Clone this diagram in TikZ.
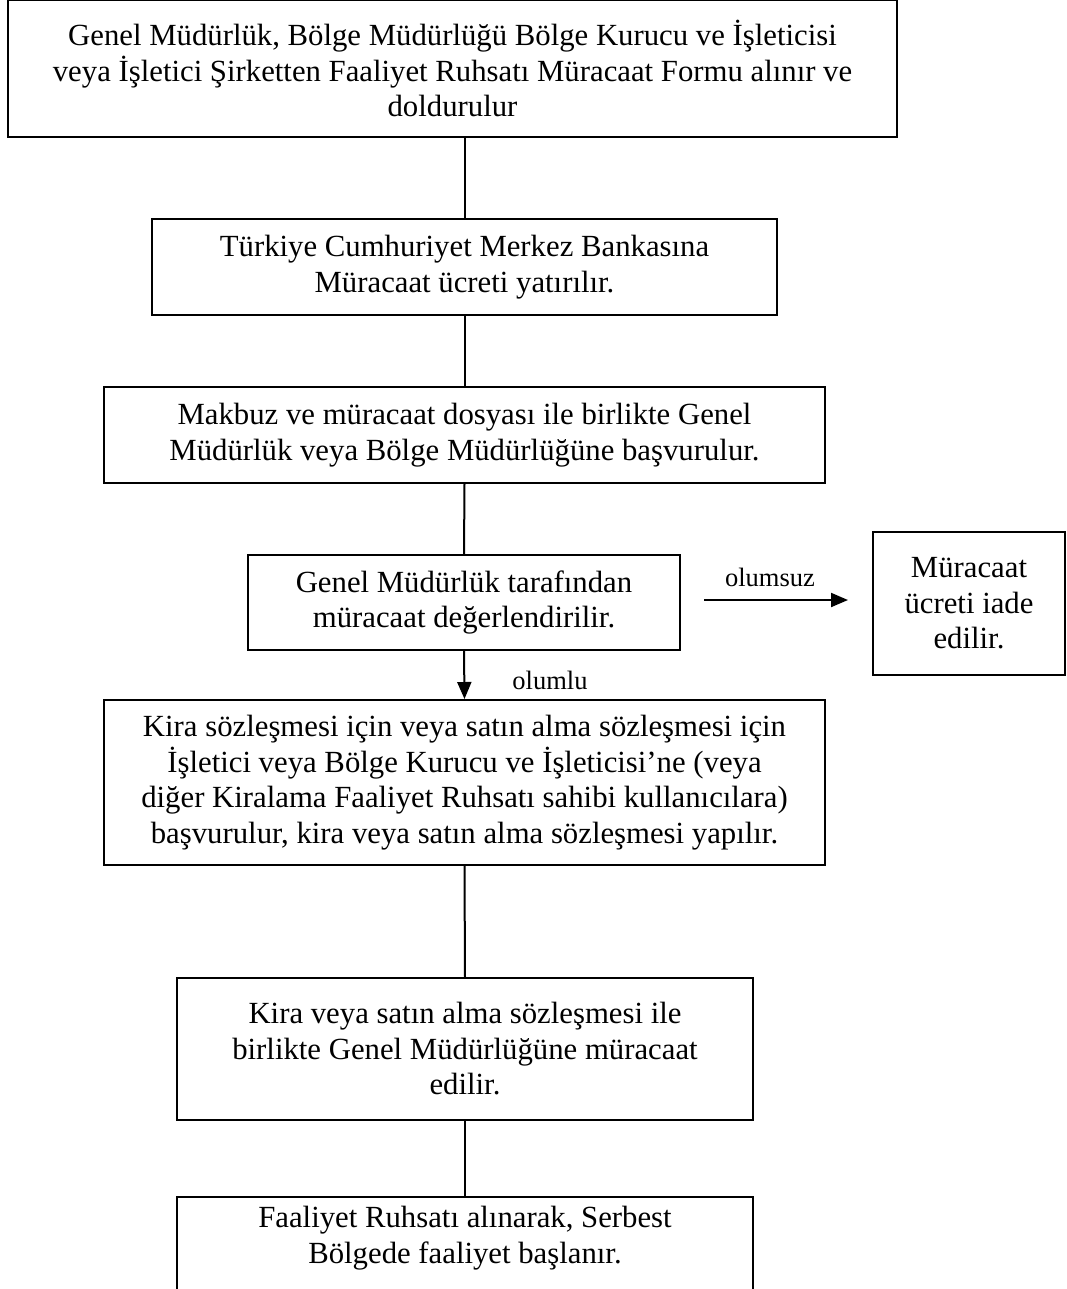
\documentclass[tikz,border=0pt]{standalone}
\usepackage{fontspec}
\setmainfont{Liberation Serif}
\usepackage{tikz}
\usetikzlibrary{arrows.meta}

\begin{document}
\begin{tikzpicture}[x=0.4pt, y=-0.4pt, >={Triangle[length=6.8pt, width=5.6pt]},
    box/.style={draw, line width=0.8pt, align=center, inner sep=0pt,
      font=\fontsize{12.3}{14.2}\selectfont},
    wh/.style 2 args={minimum width=#1*0.4pt, minimum height=#2*0.4pt},
    link/.style={line width=0.8pt},
    tag/.style={font=\fontsize{10.6}{12}\selectfont}]
  %--- Page
  \useasboundingbox (0,0) rectangle (1067,1289);
  %--- Steps
  \node[box, wh={889}{137}] (B1) at (452.5,68.5)
    {Genel Müdürlük, Bölge Müdürlüğü Bölge Kurucu ve İşleticisi\\
     veya İşletici Şirketten Faaliyet Ruhsatı Müracaat Formu alınır ve\\
     doldurulur};
  \node[box, wh={625}{96}] (B2) at (464.5,267)
    {Türkiye Cumhuriyet Merkez Bankasına\\ Müracaat ücreti yatırılır.};
  \node[box, wh={721}{96}] (B3) at (464.5,435)
    {Makbuz ve müracaat dosyası ile birlikte Genel\\
     Müdürlük veya Bölge Müdürlüğüne başvurulur.};
  \node[box, wh={432}{95}] (B4) at (464,602.5)
    {Genel Müdürlük tarafından\\ müracaat değerlendirilir.};
  \node[box, wh={192}{143}] (B5) at (969,603.5)
    {Müracaat\\ ücreti iade\\ edilir.};
  \node[box, wh={721}{165}] (B6) at (464.5,782.5)
    {Kira sözleşmesi için veya satın alma sözleşmesi için\\
     İşletici veya Bölge Kurucu ve İşleticisi’ne (veya\\
     diğer Kiralama Faaliyet Ruhsatı sahibi kullanıcılara)\\
     başvurulur, kira veya satın alma sözleşmesi yapılır.};
  \node[box, wh={576}{142}] (B7) at (465,1049)
    {Kira veya satın alma sözleşmesi ile\\
     birlikte Genel Müdürlüğüne müracaat\\ edilir.};
  % last box runs past the page edge
  \node[box, wh={576}{160}, anchor=north] (B8) at (465,1196) {};
  \node[box, draw=none] (B8t) at (465,1238)
    {Faaliyet Ruhsatı alınarak, Serbest\\ Bölgede faaliyet başlanır.};
  %--- Connectors
  \draw[link] (B2.north |- B1.south) -- (B2.north);
  \draw[link] (B2.south) -- (B3.north);
  \draw[link] (B3.south) -- (B4.north);
  \draw[link, ->] (B4.south) -- (B6.north);
  \draw[link] (B6.south) -- (B7.north);
  \draw[link] (B7.south) -- (B8.north);
  %--- Side branch
  \coordinate (N1) at (704,600);
  \coordinate (N2) at (848,600);
  \draw[link, ->] (N1) -- (N2);
  \node[tag] (T1) at (770,577) {olumsuz};
  \node[tag] (T2) at (550,680) {olumlu};
\end{tikzpicture}
\end{document}
